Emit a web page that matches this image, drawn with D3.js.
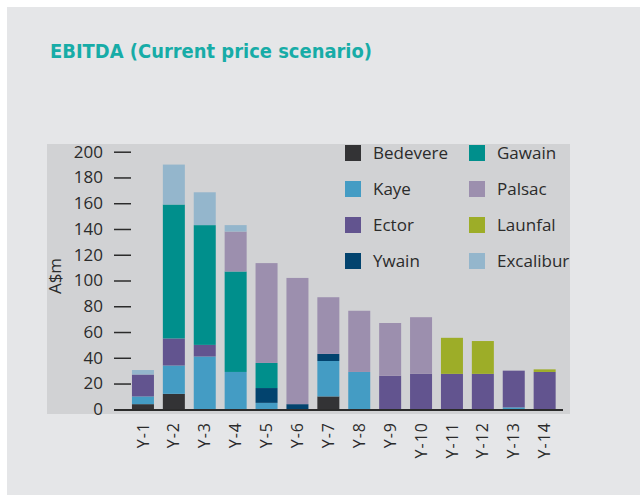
<!DOCTYPE html>
<html><head><meta charset="utf-8">
<script src="https://cdn.jsdelivr.net/npm/d3@7"></script>
<style>
html,body{margin:0;padding:0;background:#fff;}
svg{display:block;}
</style></head>
<body>
<svg id="chart" width="640" height="495"></svg>
<script>
const categories = ["Y-1","Y-2","Y-3","Y-4","Y-5","Y-6","Y-7","Y-8","Y-9","Y-10","Y-11","Y-12","Y-13","Y-14"];
const seriesNames = ["Bedevere","Kaye","Ywain","Ector","Gawain","Palsac","Launfal","Excalibur"];
const bedevere  = [4, 12, 0, 0, 0, 0, 10, 0, 0, 0, 0, 0, 0, 0];
const kaye      = [6, 22, 41, 29, 5, 0, 27.5, 29, 0, 0, 0, 0, 1.5, 0];
const ywain     = [0, 0, 0, 0, 11.5, 4, 5.5, 0, 0, 0, 0, 0, 0, 0];
const ector     = [17, 21, 9, 0, 0, 0, 0, 0, 26, 27.5, 27.5, 27.5, 28.5, 29];
const gawain    = [0, 104, 93, 78, 19.5, 0, 0, 0, 0, 0, 0, 0, 0, 0];
const palsac    = [0, 0, 0, 31, 77.5, 98, 44, 47.5, 41, 44, 0, 0, 0, 0];
const launfal   = [0, 0, 0, 0, 0, 0, 0, 0, 0, 0, 28, 25.5, 0, 2];
const excalibur = [3.5, 31, 25.5, 5, 0, 0, 0, 0, 0, 0, 0, 0, 0, 0];
const yTicks = [0,20,40,60,80,100,120,140,160,180,200];
const legendOrder = ["Bedevere","Gawain","Kaye","Palsac","Ector","Launfal","Ywain","Excalibur"];
const colors = {Bedevere:"#333335",Kaye:"#449cc4",Ywain:"#02436e",Ector:"#62548f",Gawain:"#008f8c",Palsac:"#9c8fae",Launfal:"#9dad28",Excalibur:"#94b6cc"};

const seriesData = {Bedevere:bedevere,Kaye:kaye,Ywain:ywain,Ector:ector,Gawain:gawain,Palsac:palsac,Launfal:launfal,Excalibur:excalibur};
const rows = categories.map((c,i)=>{const r={cat:c}; seriesNames.forEach(s=>r[s]=seriesData[s][i]); return r;});

const svg = d3.select("#chart");
const font = "'Open Sans', 'DejaVu Sans', sans-serif";
// panel
svg.append("rect").attr("x",7).attr("y",7).attr("width",633).attr("height",488).attr("fill","#e5e6e8");
// plot bg
svg.append("rect").attr("x",47).attr("y",144).attr("width",523).attr("height",270).attr("fill","#d1d2d4");

svg.append("text").attr("x",50).attr("y",57.5)
  .attr("font-family","'DejaVu Sans Condensed','DejaVu Sans',sans-serif").attr("font-stretch","condensed")
  .attr("font-weight","bold").attr("font-size",20).attr("fill","#17aca7")
  .attr("textLength",322).attr("lengthAdjust","spacingAndGlyphs")
  .text("EBITDA (Current price scenario)");

const x = d3.scaleBand().domain(categories).range([127.5,560.1]).paddingInner(0.288).paddingOuter(0.144);
const y = d3.scaleLinear().domain([0,200]).range([409.3,151.7]);

const stack = d3.stack().keys(seriesNames)(rows);
svg.append("g").selectAll("g").data(stack).join("g").attr("fill",d=>colors[d.key])
  .selectAll("rect").data(d=>d).join("rect")
  .attr("x",d=>x(d.data.cat)).attr("width",x.bandwidth())
  .attr("y",d=>y(d[1])).attr("height",d=>Math.max(0,y(d[0])-y(d[1])));

// y axis
const yAxis = svg.append("g").attr("transform","translate(131,0)")
  .call(d3.axisLeft(y).tickValues(yTicks).tickSize(17).tickPadding(11));
yAxis.select(".domain").remove();
yAxis.selectAll(".tick line").attr("stroke","#2b2b2b").attr("stroke-width",1.5);
yAxis.selectAll(".tick text").attr("font-family",font).attr("font-size",17).attr("fill","#2b2b2b");

// baseline
svg.append("line").attr("x1",114).attr("x2",563).attr("y1",410).attr("y2",410).attr("stroke","#2b2b2b").attr("stroke-width",2);

// x axis labels
const xAxis = svg.append("g").attr("transform","translate(0,411)")
  .call(d3.axisBottom(x).tickSize(0).tickPadding(0));
xAxis.select(".domain").remove();
xAxis.selectAll(".tick text")
  .attr("font-family",font).attr("font-size",16).attr("fill","#2b2b2b")
  .attr("letter-spacing","1px")
  .attr("text-anchor","end").attr("dy","0.35em")
  .attr("transform","translate(0,11) rotate(-90)").attr("x",0).attr("y",0);

// y label
svg.append("text").attr("transform","translate(61,276) rotate(-90)").attr("text-anchor","middle")
  .attr("font-family",font).attr("font-size",17).attr("fill","#2b2b2b").text("A$m");

// legend
const lg = svg.append("g");
legendOrder.forEach((name,i)=>{
  const col=i%2,row=Math.floor(i/2);
  const lx = col===0?345:469, ly = 153 + row*36;
  lg.append("rect").attr("x",lx).attr("y",ly-8).attr("width",16).attr("height",16).attr("fill",colors[name]);
  lg.append("text").attr("x",lx+28).attr("y",ly).attr("dy","0.35em")
    .attr("font-family",font).attr("font-size",17).attr("fill","#2b2b2b").text(name);
});
</script>
</body></html>
